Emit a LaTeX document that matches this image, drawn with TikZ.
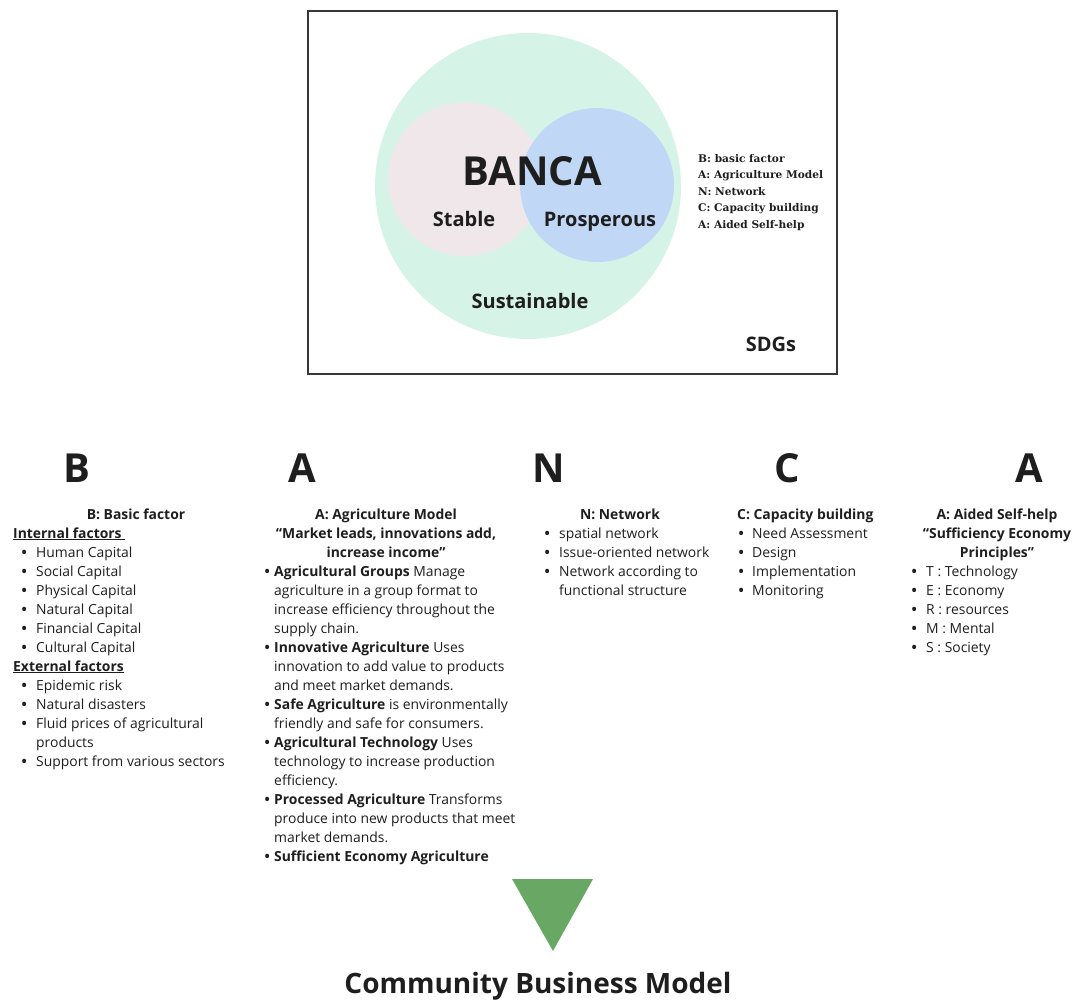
\documentclass[tikz,border=0pt]{standalone}
\usepackage{fontspec}
\setmainfont{Open Sans}
\newfontfamily\legendfont{DejaVu Serif}
\definecolor{mint}{RGB}{214,243,232}
\definecolor{pinkc}{RGB}{240,231,235}
\definecolor{bluec}{RGB}{192,216,246}
\definecolor{trig}{RGB}{104,168,100}
\definecolor{frame}{RGB}{55,55,55}
\definecolor{txt}{RGB}{30,30,30}
\newcommand{\bl}[1]{\makebox[#1][l]{\textbf{\textbullet}}}
\tikzset{
  venn/.style={circle, inner sep=0pt, draw=none},
  vlabel/.style={font=\bfseries\fontsize{20}{24}\selectfont, text=txt, inner sep=0pt, anchor=base},
  big/.style={font=\bfseries\fontsize{40}{44}\selectfont, text=txt, inner sep=0pt, anchor=base},
  body/.style={font=\fontsize{13.9}{19}\selectfont, text=txt, align=left, inner sep=0pt, anchor=base west},
  head/.style={font=\bfseries\fontsize{13.9}{19}\selectfont, text=txt, align=center, inner sep=0pt, anchor=base},
  legend/.style={font=\legendfont\bfseries\fontsize{10.6}{16.5}\selectfont, text=txt, align=left, inner sep=0pt, anchor=base west}
}
\begin{document}
\begin{tikzpicture}[x=1pt,y=-1pt]
\useasboundingbox (0,0) rectangle (1075,999);
% frame
\node[draw=frame, line width=1.5pt, fill=white, minimum width=529pt, minimum height=363pt, inner sep=0pt, anchor=north west] (box) at (307,10) {};
% venn
\node[venn, fill=mint, minimum size=306pt] (sdg) at (528,186) {};
\node[venn, fill=pinkc, minimum size=154pt] (stab) at (465,179) {};
\node[venn, fill=bluec, minimum size=154pt] (pros) at (597,185) {};
\node[font=\bfseries\fontsize{40}{44}\selectfont, text=txt, inner sep=0pt, anchor=base] (banca) at (532,185) {BANCA};
\node[vlabel] (lstab) at (464,226) {Stable};
\node[vlabel] (lpros) at (600,226) {Prosperous};
\node[vlabel] (lsus) at (530,308) {Sustainable};
\node[vlabel] (lsdg) at (771,351) {SDGs};
% multi-line nodes are placed by the baseline of their last line
\node[legend] (leg) at (698,228) {B: basic factor\\A: Agriculture Model\\N: Network\\C: Capacity building\\A: Aided Self-help};
% big letters
\node[big] (bigB) at (77,482) {B};
\node[big] (bigA) at (302,482) {A};
\node[big] (bigN) at (549,482) {N};
\node[big] (bigC) at (787,482) {C};
\node[big] (bigA2) at (1029,482) {A};
% column B
\node[head] (hB) at (136,519) {B: Basic factor};
\node[body] (colB) at (13,766) {%
\underline{\textbf{Internal factors\ }}\\
\hspace*{8.5pt}\bl{14.5pt}Human Capital\\
\hspace*{8.5pt}\bl{14.5pt}Social Capital\\
\hspace*{8.5pt}\bl{14.5pt}Physical Capital\\
\hspace*{8.5pt}\bl{14.5pt}Natural Capital\\
\hspace*{8.5pt}\bl{14.5pt}Financial Capital\\
\hspace*{8.5pt}\bl{14.5pt}Cultural Capital\\
\underline{\textbf{External factors}}\\
\hspace*{8.5pt}\bl{14.5pt}Epidemic risk\\
\hspace*{8.5pt}\bl{14.5pt}Natural disasters\\
\hspace*{8.5pt}\bl{14.5pt}Fluid prices of agricultural\\
\hspace*{23pt}products\\
\hspace*{8.5pt}\bl{14.5pt}Support from various sectors};
% column A
\node[head] (hA) at (386,557) {A: Agriculture Model\\``Market leads, innovations add,\\increase income''};
\node[body] (colA) at (264.5,861) {%
\bl{9.5pt}\textbf{Agricultural Groups} Manage\\
\hspace*{9.5pt}agriculture in a group format to\\
\hspace*{9.5pt}increase efficiency throughout the\\
\hspace*{9.5pt}supply chain.\\
\bl{9.5pt}\textbf{Innovative Agriculture} Uses\\
\hspace*{9.5pt}innovation to add value to products\\
\hspace*{9.5pt}and meet market demands.\\
\bl{9.5pt}\textbf{Safe Agriculture} is environmentally\\
\hspace*{9.5pt}friendly and safe for consumers.\\
\bl{9.5pt}\textbf{Agricultural Technology} Uses\\
\hspace*{9.5pt}technology to increase production\\
\hspace*{9.5pt}efficiency.\\
\bl{9.5pt}\textbf{Processed Agriculture} Transforms\\
\hspace*{9.5pt}produce into new products that meet\\
\hspace*{9.5pt}market demands.\\
\bl{9.5pt}\textbf{Sufficient Economy Agriculture}};
% column N
\node[head] (hN) at (620,519) {N: Network};
\node[body] (colN) at (544.5,595) {%
\bl{14.5pt}spatial network\\
\bl{14.5pt}Issue-oriented network\\
\bl{14.5pt}Network according to\\
\hspace*{14.5pt}functional structure};
% column C
\node[head, anchor=base west] (hC) at (737,519) {C: Capacity building};
\node[body] (colC) at (738.5,595) {%
\bl{13.5pt}Need Assessment\\
\bl{13.5pt}Design\\
\bl{13.5pt}Implementation\\
\bl{13.5pt}Monitoring};
% column A2
\node[head] (hA2) at (997,557) {A: Aided Self-help\\``Sufficiency Economy\\Principles''};
\node[body] (colA2) at (911.5,652) {%
\bl{14.5pt}T : Technology\\
\bl{14.5pt}E : Economy\\
\bl{14.5pt}R : resources\\
\bl{14.5pt}M : Mental\\
\bl{14.5pt}S : Society};
% triangle and bottom label
\fill[trig] (512,879) -- (593,879) -- (553,951) -- cycle;
\node[font=\bfseries\fontsize{28}{32}\selectfont, text=txt, inner sep=0pt, anchor=base] (cbm) at (538,993) {Community Business Model};
\end{tikzpicture}
\end{document}
